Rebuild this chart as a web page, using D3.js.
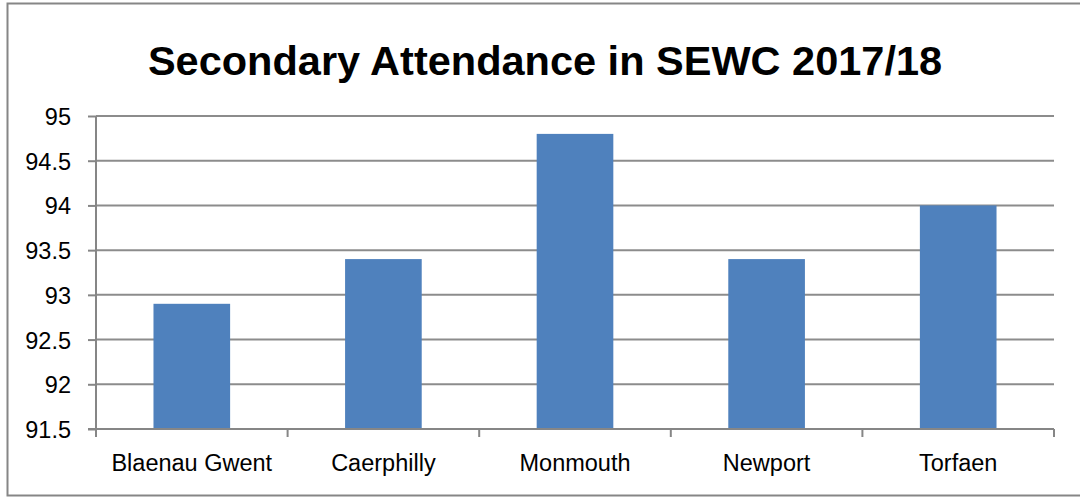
<!DOCTYPE html>
<html>
<head>
<meta charset="utf-8">
<script src="https://cdn.jsdelivr.net/npm/d3@7"></script>
<style>
  body { margin: 0; background: #fff; }
  text { font-family: "Liberation Sans", Arial, sans-serif; fill: #000; }
</style>
</head>
<body>
<div class="chart"></div>
<script>
var categories = ["Blaenau Gwent", "Caerphilly", "Monmouth", "Newport", "Torfaen"];
var attendance = [92.9, 93.4, 94.8, 93.4, 94.0];
var yTicks = [91.5, 92, 92.5, 93, 93.5, 94, 94.5, 95];
var title = "Secondary Attendance in SEWC 2017/18";

var svgWidth = 1080;
var svgHeight = 497;

var margin = { top: 116, right: 26, bottom: 68, left: 96 };
var chartWidth = svgWidth - margin.left - margin.right;
var chartHeight = svgHeight - margin.top - margin.bottom;

var svg = d3.select(".chart")
  .append("svg")
  .attr("width", svgWidth)
  .attr("height", svgHeight);

// outer chart border (right edge is cut off in the original)
svg.append("rect")
  .attr("x", 7.5)
  .attr("y", 3.5)
  .attr("width", svgWidth)
  .attr("height", 492)
  .attr("fill", "none")
  .attr("stroke", "#868686")
  .attr("stroke-width", 2);

svg.append("text")
  .attr("x", 545)
  .attr("y", 75)
  .attr("text-anchor", "middle")
  .style("font-weight", "bold")
  .style("font-size", "41.5px")
  .text(title);

var chart = svg.append("g")
  .attr("transform", "translate(" + margin.left + "," + margin.top + ")");

var xScale = d3.scaleBand()
  .domain(categories)
  .range([0, chartWidth])
  .paddingInner(0.6)
  .paddingOuter(0.3);

var yScale = d3.scaleLinear()
  .domain([91.5, 95])
  .range([chartHeight, 0]);

// gridlines
chart.append("g")
  .selectAll("line")
  .data(yTicks.slice(1))
  .enter()
  .append("line")
  .attr("x1", 0)
  .attr("x2", chartWidth)
  .attr("y1", function(d) { return yScale(d); })
  .attr("y2", function(d) { return yScale(d); })
  .attr("stroke", "#8c8c8c")
  .attr("stroke-width", 2);

// bars
chart.selectAll(".bar")
  .data(attendance)
  .enter()
  .append("rect")
  .attr("class", "bar")
  .attr("x", function(d, i) { return xScale(categories[i]); })
  .attr("y", function(d) { return yScale(d); })
  .attr("width", xScale.bandwidth())
  .attr("height", function(d) { return chartHeight - yScale(d); })
  .attr("fill", "#4f81bd");

// y axis
var yAxis = d3.axisLeft(yScale)
  .tickValues(yTicks)
  .tickSize(8)
  .tickPadding(17)
  .tickFormat(d3.format(""));

var yG = chart.append("g").call(yAxis);
yG.select(".domain").attr("stroke", "#868686").attr("stroke-width", 2).attr("d", "M0," + (chartHeight + 8) + "V0");
yG.selectAll(".tick line").attr("stroke", "#868686").attr("stroke-width", 2);
yG.selectAll(".tick text").style("font-size", "23.5px").attr("dy", "0.36em");

// x axis with category boundary ticks
var xG = chart.append("g")
  .attr("transform", "translate(0," + chartHeight + ")");

xG.append("line")
  .attr("x1", -8)
  .attr("x2", chartWidth)
  .attr("stroke", "#868686")
  .attr("stroke-width", 2);

var step = chartWidth / categories.length;
xG.selectAll(".xtick")
  .data(d3.range(categories.length + 1))
  .enter()
  .append("line")
  .attr("x1", function(i) { return i * step; })
  .attr("x2", function(i) { return i * step; })
  .attr("y1", 0)
  .attr("y2", 8)
  .attr("stroke", "#868686")
  .attr("stroke-width", 2);

xG.selectAll(".xlabel")
  .data(categories)
  .enter()
  .append("text")
  .attr("x", function(d) { return xScale(d) + xScale.bandwidth() / 2; })
  .attr("y", 42)
  .attr("text-anchor", "middle")
  .style("font-size", "23.5px")
  .text(function(d) { return d; });
</script>
</body>
</html>
